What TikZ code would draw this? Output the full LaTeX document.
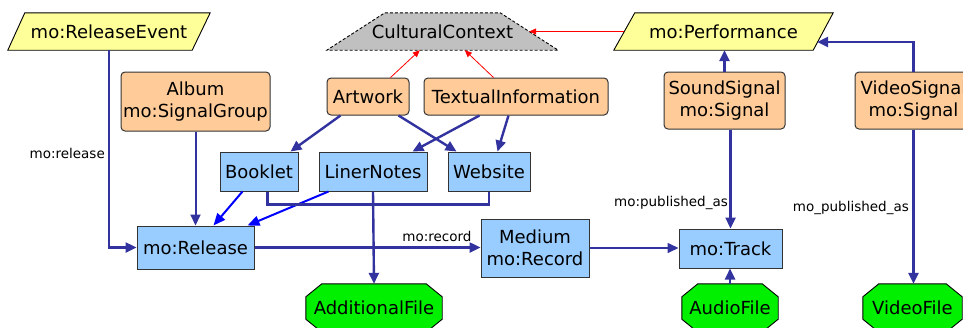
\documentclass[tikz,border=0pt]{standalone}
\usepackage{fontspec}
\setmainfont{DejaVu Sans}
\usetikzlibrary{arrows.meta,calc}
\pgfdeclarelayer{bg}
\pgfsetlayers{bg,main}
\definecolor{edgeblue}{RGB}{51,51,160}
\definecolor{brightblue}{RGB}{0,0,255}
\definecolor{boxblue}{RGB}{153,204,255}
\definecolor{boxorange}{RGB}{255,204,153}
\definecolor{boxyellow}{RGB}{255,255,153}
\definecolor{boxgreen}{RGB}{0,240,0}
\definecolor{boxgray}{RGB}{192,192,192}
\definecolor{bordergray}{RGB}{51,51,51}
\newcommand\myocta[1]{%
  \path[shapeline, fill=boxgreen]
    ($(#1.north west)+(16,0)$) -- ($(#1.north east)+(-16,0)$) --
    ($(#1.north east)+(0,13)$) -- ($(#1.south east)+(0,-13)$) --
    ($(#1.south east)+(-16,0)$) -- ($(#1.south west)+(16,0)$) --
    ($(#1.south west)+(0,-13)$) -- ($(#1.north west)+(0,13)$) -- cycle;}
\tikzset{
  base/.style={inner sep=0pt, align=center, font=\fontsize{18}{22}\selectfont},
  bluebox/.style={base, draw=bordergray, line width=1pt, fill=boxblue},
  orangebox/.style={base, draw=bordergray, line width=1pt, fill=boxorange, rounded corners=4pt},
  plainshape/.style={base},
  shapeline/.style={draw=black, line width=0.9pt},
  lab/.style={inner sep=1pt, font=\fontsize{13.5}{16}\selectfont},
  rel/.style={draw=edgeblue, line width=2.4pt, -{Triangle[length=11pt,width=10pt]}},
  edgeline/.style={draw=edgeblue, line width=2.4pt},
  brightarrow/.style={draw=brightblue, line width=2pt, -{Triangle[length=12pt,width=10pt]}},
  redarrow/.style={draw=red, line width=0.8pt, -{Triangle[length=7pt,width=6pt]}},
}
\begin{document}
\begin{tikzpicture}[x=1pt,y=-1pt]
\useasboundingbox (0,0) rectangle (963,327);
\clip (0,0) rectangle (963,327);
% nodes
\node[plainshape, minimum width=202pt, minimum height=37pt] (RE) at (109,31.5) {mo:ReleaseEvent};
\node[orangebox, minimum width=149pt, minimum height=59pt] (Album) at (195.5,101.5) {Album\\mo:SignalGroup};
\node[plainshape, minimum width=231pt, minimum height=37pt] (CC) at (442.5,31.5) {CulturalContext};
\node[orangebox, minimum width=82pt, minimum height=37pt] (Art) at (368,96.5) {Artwork};
\node[orangebox, minimum width=184pt, minimum height=37pt] (TI) at (516,96.5) {TextualInformation};
\node[plainshape, minimum width=219pt, minimum height=37pt] (Perf) at (723.5,31.5) {mo:Performance};
\node[orangebox, minimum width=121pt, minimum height=57pt] (SS) at (724.5,100.5) {SoundSignal\\mo:Signal};
\node[orangebox, minimum width=117pt, minimum height=57pt] (VS) at (913.5,100.5) {VideoSignal\\mo:Signal};
\node[bluebox, minimum width=78pt, minimum height=39pt] (Bk) at (259,171.5) {Booklet};
\node[bluebox, minimum width=108pt, minimum height=39pt] (LN) at (373,171.5) {LinerNotes};
\node[bluebox, minimum width=82pt, minimum height=39pt] (Web) at (489,171.5) {Website};
\node[bluebox, minimum width=117pt, minimum height=43pt] (Rel) at (195.5,247.5) {mo:Release};
\node[bluebox, minimum width=108pt, minimum height=58pt] (Med) at (535,248) {Medium\\mo:Record};
\node[bluebox, minimum width=103pt, minimum height=39pt] (Trk) at (730.5,248.5) {mo:Track};
\node[plainshape, minimum width=136pt, minimum height=48pt] (AF) at (374,308) {AdditionalFile};
\node[plainshape, minimum width=96pt, minimum height=48pt] (AuF) at (730,308) {AudioFile};
\node[plainshape, minimum width=99pt, minimum height=48pt] (VF) at (912.5,308) {VideoFile};
% shapes behind text
\begin{pgfonlayer}{bg}
\path[shapeline, fill=boxyellow] ($(RE.north west)+(17,0)$) -- (RE.north east) -- ($(RE.south east)+(-18,0)$) -- (RE.south west) -- cycle;
\path[shapeline, fill=boxyellow] ($(Perf.north west)+(21,0)$) -- (Perf.north east) -- ($(Perf.south east)+(-20,0)$) -- (Perf.south west) -- cycle;
\path[shapeline, dash pattern=on 3pt off 2pt, fill=boxgray] ($(CC.north west)+(58,0)$) -- ($(CC.north east)+(-58,0)$) -- (CC.south east) -- (CC.south west) -- cycle;
\myocta{AF}
\myocta{AuF}
\myocta{VF}
\end{pgfonlayer}
% connectors
\draw[rel] (RE.south) |- (Rel.west);
\node[lab, anchor=east] (lrelease) at (106,153) {mo:release};
\draw[rel, line width=2pt] (Album.south) -- (Rel.north);
\draw[rel] ($(Art.south west)+(14,0)$) -- ($(Bk.north east)+(-8,0)$);
\draw[rel] ($(Art.south east)+(-11,0)$) -- ($(Web.north west)+(9,0)$);
\draw[rel] ($(TI.south west)+(56,0)$) -- ($(LN.north east)+(-15,0)$);
\draw[rel] ($(TI.south west)+(85,0)$) -- ($(Web.north west)+(50,0)$);
\draw[redarrow] ($(Art.north west)+(64,0)$) -- ($(CC.south west)+(93,0)$);
\draw[redarrow] ($(TI.north west)+(70,0)$) -- ($(CC.south west)+(138,0)$);
\draw[redarrow] ($(Perf.west)+(10.5,0)$) -- ($(CC.east)+(-29,0)$);
\draw[rel] (SS.north) -- (SS.north |- Perf.south);
\draw[rel] (VS.north) |- ($(Perf.east)+(-16,10.5)$);
\draw[rel] (Trk.north |- SS.south) -- (Trk.north);
\node[lab, anchor=east] (lpub) at (729,203) {mo:published\_as};
\draw[rel] (VS.south) -- (VS.south |- VF.north);
\node[lab, anchor=east] (lpubv) at (910,208) {mo\_published\_as};
\draw[rel] (AuF.north) -- (AuF.north |- Trk.south);
\draw[rel] (Rel.east) -- (Rel.east -| Med.west);
\node[lab] (lrecord) at (437,236) {mo:record};
\draw[rel, line width=1.6pt] (Med.east) -- (Med.east -| Trk.west);
\draw[brightarrow] ($(Bk.south west)+(23,0)$) -- ($(Rel.north west)+(77,0)$);
\draw[brightarrow] ($(LN.south west)+(10,0)$) -- ($(Rel.north east)+(-7,0)$);
\draw[edgeline] ($(Bk.south west)+(48,0)$) -- ++(0,13) -| (Web.south);
\draw[rel] (LN.south) -- (AF.north);
\end{tikzpicture}
\end{document}
